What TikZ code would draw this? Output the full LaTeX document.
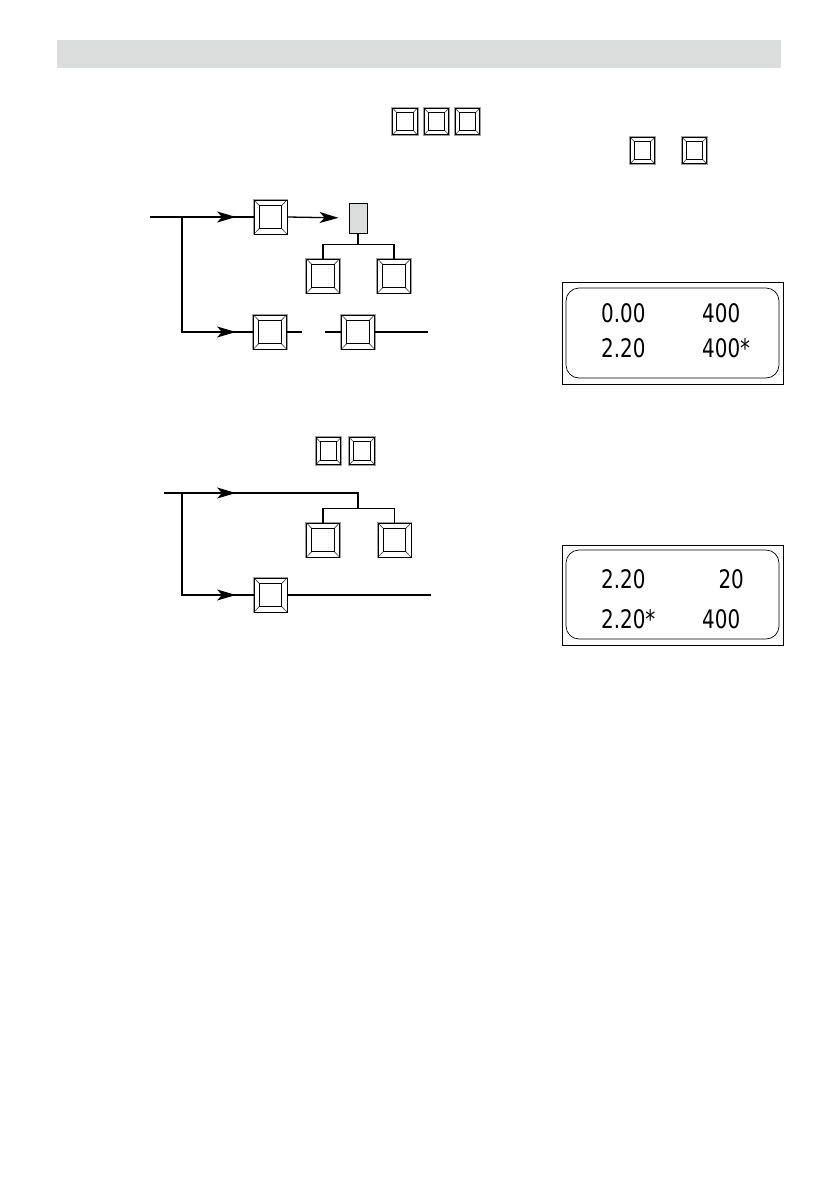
\documentclass[tikz,border=0pt]{standalone}
\usepackage{fontspec}
\usetikzlibrary{calc,arrows.meta,decorations.markings}
\newfontfamily\lcdfont[FakeStretch=0.78]{DejaVu Sans}
\definecolor{barcol}{HTML}{DCDDDD}
\newcommand\kf{0.16}
\tikzset{
  bigtip/.tip={Stealth[length=19pt,width=11pt,inset=5pt]},
  conn/.style={line width=1.3pt, line join=miter},
  midarrow/.style={postaction={decorate}, decoration={markings, mark=at position #1 with {\arrow{bigtip}}}},
  keybox/.style={rectangle, draw=black, line width=0.9pt, inner sep=0pt, fill=white,
    preaction={draw=gray!75, line width=2.8pt},
    path picture={
      \path (path picture bounding box.north west) coordinate (pa)
            (path picture bounding box.north east) coordinate (pb)
            (path picture bounding box.south east) coordinate (pc)
            (path picture bounding box.south west) coordinate (pd);
      \path ($(pa)!\kf!(pc)$) coordinate (qa) ($(pb)!\kf!(pd)$) coordinate (qb)
            ($(pc)!\kf!(pa)$) coordinate (qc) ($(pd)!\kf!(pb)$) coordinate (qd);
      \draw[black!75, line width=0.6pt] (pa)--(qa) (pb)--(qb) (pc)--(qc) (pd)--(qd);
      \draw[black, line width=1pt] (qa) -- (qb) -- (qc) -- (qd) -- cycle;
    }},
  keyL/.style={keybox, minimum width=33pt, minimum height=34pt},
  keyS/.style={keybox, minimum width=24.5pt, minimum height=26.5pt},
  greybox/.style={rectangle, draw=black, line width=0.9pt, fill=barcol, inner sep=0pt, minimum width=18pt, minimum height=30pt},
  lcd/.style={inner sep=0pt, font=\lcdfont\fontsize{25.5}{25.5}\selectfont},
  dispout/.style={draw=black, line width=0.8pt},
  dispin/.style={draw=black, line width=0.7pt, rounded corners=13pt},
}
\begin{document}
\begin{tikzpicture}[x=1pt,y=-1pt]
\useasboundingbox (0,0) rectangle (839,1191);
% header bar
\fill[barcol] (57,40) rectangle (781,68);

% top keys
\node[keyS] (k1) at (405,121.5) {};
\node[keyS] (k2) at (436.5,121.5) {};
\node[keyS] (k3) at (467.5,121.5) {};
\node[keyS] (k4) at (642.5,150.5) {};
\node[keyS] (k5) at (694.5,150.5) {};

% ---------- diagram 1 ----------
\coordinate (in1) at (150,217);
\coordinate (br1) at (182,217);
\node[keyL] (A) at (270.5,217) {};
\node[greybox] (G) at (358,218) {};
\node[keyL] (B) at (323,276) {};
\node[keyL] (C) at (394,276) {};
\node[keyL] (D) at (270,332) {};
\node[keyL] (E) at (358,332) {};
\coordinate (out1) at (428,332);

\draw[conn, midarrow=86pt] (in1) -- (A.west);
\draw[conn, midarrow=169pt] (br1) |- (D.west);
\draw[conn, -bigtip, shorten >=10pt] (A.east) -- (G.west);
\draw[conn] (G.south) -- ++(0,12);
\draw[conn] (B.north) -- ++(0,-14) -| (C.north);
\draw[conn] (D.east) -- ++(15,0);
\draw[conn] (E.west) -- ++(-16,0);
\draw[conn] (E.east) -- (out1);

% display 1
\draw[dispout] (562,282) rectangle (783,384);
\draw[dispin] (566,288) rectangle (779,378);
\node[lcd, anchor=base west] (t1) at (601,322) {0.00};
\node[lcd, anchor=base west] (t2) at (702,322) {400};
\node[lcd, anchor=base west] (t3) at (601,357) {2.20};
\node[lcd, anchor=base west] (t4) at (702,357) {400*};

% ---------- diagram 2 ----------
\node[keyS] (k6) at (328.5,451) {};
\node[keyS] (k7) at (362,451) {};
\coordinate (in2) at (164,493);
\coordinate (br2) at (182,493);
\coordinate (j2) at (358,509);
\node[keyL] (G2) at (323,540) {};
\node[keyL] (H2) at (394.5,540) {};
\node[keyL] (F) at (270.5,595) {};
\coordinate (out2) at (431,595);

\draw[conn, midarrow=72pt] (in2) -| (j2);
\draw[conn] (G2.north) -- ++(0,-14) -| (H2.north);
\draw[conn, midarrow=156pt] (br2) |- (F.west);
\draw[conn] (F.east) -- (out2);

% display 2
\draw[dispout] (562,545) rectangle (783,645);
\draw[dispin] (566,550) rectangle (779,639);
\node[lcd, anchor=base west] (t5) at (601,588) {2.20};
\node[lcd, anchor=base east] (t6) at (744,588) {20};
\node[lcd, anchor=base west] (t7) at (601,628) {2.20*};
\node[lcd, anchor=base west] (t8) at (702,628) {400};
\end{tikzpicture}
\end{document}
